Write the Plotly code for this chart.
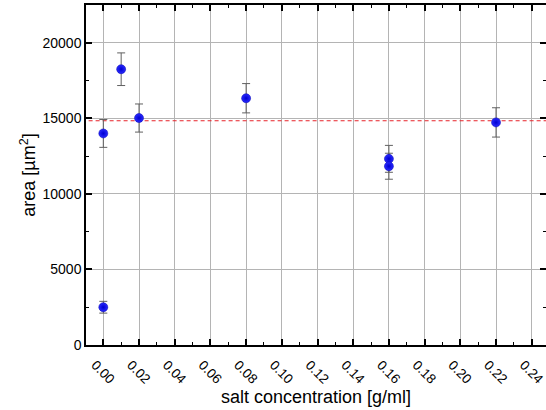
import plotly.graph_objects as go

# data
salt = [0.00, 0.00, 0.01, 0.02, 0.08, 0.16, 0.16, 0.22]
area = [2500, 14000, 18250, 15020, 16330, 12320, 11830, 14730]
area_err = [390, 920, 1080, 930, 970, 890, 860, 970]
mean_line = 14840
x_ticks = [0.00, 0.02, 0.04, 0.06, 0.08, 0.10, 0.12, 0.14, 0.16, 0.18, 0.20, 0.22, 0.24]
y_ticks = [0, 5000, 10000, 15000, 20000]

font = "Liberation Sans, Arial, sans-serif"

fig = go.Figure()
fig.add_trace(go.Scatter(
    x=[-0.02, 0.26], y=[mean_line, mean_line], mode="lines",
    line=dict(color="#e8232a", width=1.2, dash="4px,3px"), showlegend=False,
))
fig.add_trace(go.Scatter(
    x=salt, y=area, mode="markers",
    error_y=dict(type="data", array=area_err, visible=True, color="#606060", thickness=1, width=4),
    marker=dict(size=9, color="#2a2aff", line=dict(color="#0000b0", width=0.5),
                gradient=dict(type="radial", color="#0000d0")),
    showlegend=False,
))

axis_common = dict(
    showline=True, linecolor="black", linewidth=1.5, mirror="allticks",
    ticks="inside", ticklen=6, tickwidth=1.5, tickcolor="black",
    showgrid=True, gridcolor="#b4b4b4", gridwidth=1, zeroline=False,
    automargin=False,
)
fig.update_xaxes(
    range=[-0.0097, 0.248], tickvals=x_ticks, ticktext=[f"{v:.2f}" for v in x_ticks],
    tickangle=45, ticklabeloverflow="allow", ticklabelshift=-8, ticklabelstandoff=5,
    tickfont=dict(family=font, size=13.5, color="black"),
    minor=dict(dtick=0.01, tick0=0, ticks="inside", ticklen=3, tickwidth=1.2, tickcolor="black", showgrid=False),
    title=dict(text="salt concentration [g/ml]", font=dict(family=font, size=18, color="black"), standoff=0),
    **axis_common,
)
fig.update_yaxes(
    range=[0, 22500], tickvals=y_ticks, ticktext=[str(v) for v in y_ticks],
    tickfont=dict(family=font, size=14, color="black"),
    minor=dict(dtick=2500, tick0=0, ticks="inside", ticklen=3, tickwidth=1.2, tickcolor="black", showgrid=False),
    title=dict(text="area [µm<sup>2</sup>]", font=dict(family=font, size=18, color="black"), standoff=2),
    **axis_common,
)
fig.update_layout(
    width=546, height=410,
    margin=dict(l=86, r=0, t=5, b=65),
    paper_bgcolor="white", plot_bgcolor="white",
)
fig.write_html("out.html")
